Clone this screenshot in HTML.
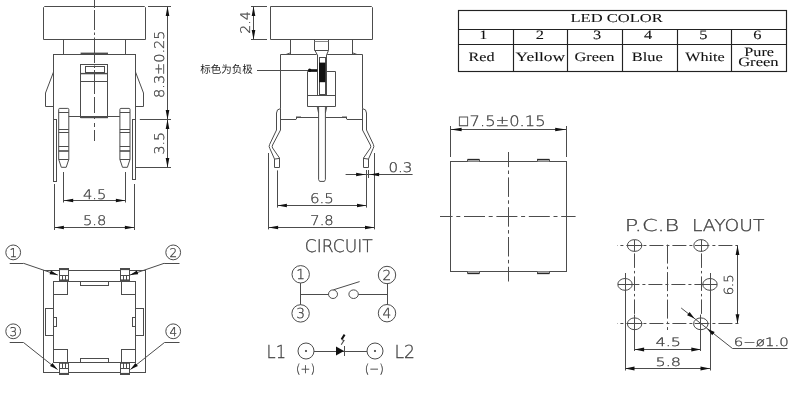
<!DOCTYPE html>
<html><head><meta charset="utf-8"><title>Switch drawing</title>
<style>
html,body{margin:0;padding:0;background:#fff;}
body{width:800px;height:400px;overflow:hidden;}
svg{display:block;filter:grayscale(1);}
svg *{vector-effect:none;}
.g line,.g path,.g rect,.g circle,.g ellipse{stroke:#4c4c4c;fill:none;stroke-width:1;}
.ar{fill:#111;stroke:none;}
.g .tb line,.g .tb rect{stroke:#222;stroke-width:1.15;}
text{fill:#404040;stroke:#404040;stroke-width:0.28;text-rendering:geometricPrecision;}
.cad{font-family:"DejaVu Sans","Liberation Sans",sans-serif;font-weight:200;}
.ser{font-family:"Liberation Serif","DejaVu Serif",serif;fill:#111;stroke:#111;stroke-width:0.08;}
.cjk{font-family:"Liberation Sans","Noto Sans CJK SC","WenQuanYi Zen Hei",sans-serif;fill:#222;stroke:none;}
</style></head><body>
<svg width="800" height="400" viewBox="0 0 800 400">
<rect width="800" height="400" style="fill:#fff"/>
<g class="g">
<line x1="94.5" y1="0" x2="94.5" y2="8"/>
<line x1="94.5" y1="10" x2="94.5" y2="30"/>
<line x1="94.5" y1="32.5" x2="94.5" y2="35"/>
<line x1="94.5" y1="37.5" x2="94.5" y2="63"/>
<line x1="94.5" y1="65.5" x2="94.5" y2="68"/>
<line x1="94.5" y1="70" x2="94.5" y2="94"/>
<line x1="94.5" y1="97" x2="94.5" y2="113"/>
<line x1="94.5" y1="116" x2="94.5" y2="119"/>
<line x1="94.5" y1="123" x2="94.5" y2="127"/>
<line x1="94.5" y1="130" x2="94.5" y2="141"/>
<path d="M44.5 6.5 H144.5 L145.5 7.5 V39.5 H43.5 V7.5 Z"/>
<line x1="63.5" y1="39.4" x2="63.5" y2="54"/>
<line x1="125.5" y1="39.4" x2="125.5" y2="54"/>
<line x1="53.4" y1="54.5" x2="135.6" y2="54.5"/>
<line x1="80.6" y1="53.4" x2="108" y2="53.4" style="stroke-width:1.6"/>
<line x1="53.5" y1="54" x2="53.5" y2="119.6"/>
<line x1="135.5" y1="54" x2="135.5" y2="119.6"/>
<path d="M53.5 72 L45.5 93 V106.5 H53.5"/>
<path d="M135.5 72 L143.5 93 V106.5 H135.5"/>
<rect x="80.5" y="64.5" width="27.0" height="53.0"/>
<rect x="85.5" y="66.5" width="19.0" height="6.0"/>
<line x1="80.6" y1="73.6" x2="107.6" y2="73.6" style="stroke-width:1.4"/>
<line x1="80.6" y1="81.5" x2="107.6" y2="81.5"/>
<line x1="80.6" y1="117.3" x2="108" y2="117.3" style="stroke-width:1.8"/>
<line x1="68.8" y1="116.5" x2="119.9" y2="116.5"/>
<path d="M58.7 159.4 V109.4 Q58.7 108.4 59.7 108.4 H67.8 Q68.8 108.4 68.8 109.4 V159.4 L66.2 167.3 H61.300000000000004 Z"/>
<line x1="58.7" y1="112.5" x2="68.8" y2="112.5"/>
<line x1="58.7" y1="129.5" x2="68.8" y2="129.5"/>
<line x1="58.7" y1="132.5" x2="68.8" y2="132.5"/>
<line x1="58.7" y1="146.5" x2="68.8" y2="146.5"/>
<line x1="58.7" y1="159.5" x2="68.8" y2="159.5"/>
<line x1="58.7" y1="151" x2="68.8" y2="151" style="stroke-width:1.6"/>
<path d="M119.9 159.4 V109.4 Q119.9 108.4 120.9 108.4 H129 Q130 108.4 130 109.4 V159.4 L127.4 167.3 H122.5 Z"/>
<line x1="119.9" y1="112.5" x2="130" y2="112.5"/>
<line x1="119.9" y1="129.5" x2="130" y2="129.5"/>
<line x1="119.9" y1="132.5" x2="130" y2="132.5"/>
<line x1="119.9" y1="146.5" x2="130" y2="146.5"/>
<line x1="119.9" y1="159.5" x2="130" y2="159.5"/>
<line x1="119.9" y1="151" x2="130" y2="151" style="stroke-width:1.6"/>
<rect x="53.5" y="119.5" width="3.0" height="62.0"/>
<rect x="132.5" y="119.5" width="3.0" height="60.0"/>
<line x1="148" y1="6.5" x2="171" y2="6.5"/>
<line x1="139.8" y1="119.5" x2="171" y2="119.5"/>
<line x1="135.5" y1="167.5" x2="171" y2="167.5"/>
<line x1="167.5" y1="6.4" x2="167.5" y2="167.5"/>
<polygon class="ar" points="167.50,6.40 169.30,15.90 165.70,15.90"/>
<polygon class="ar" points="167.50,119.60 165.70,110.10 169.30,110.10"/>
<polygon class="ar" points="167.50,119.60 169.30,129.10 165.70,129.10"/>
<polygon class="ar" points="167.50,167.50 165.70,158.00 169.30,158.00"/>
<text x="164" y="64.2" font-size="13.4" text-anchor="middle" class="cad" textLength="67.5" lengthAdjust="spacingAndGlyphs" transform="rotate(-90 164 64.2)">8.3±0.25</text>
<text x="163.6" y="143.3" font-size="13.4" text-anchor="middle" class="cad" textLength="22.5" lengthAdjust="spacingAndGlyphs" transform="rotate(-90 163.6 143.3)">3.5</text>
<line x1="63.5" y1="172" x2="63.5" y2="202.5"/>
<line x1="125.5" y1="172" x2="125.5" y2="202.5"/>
<line x1="63.7" y1="200.5" x2="125.4" y2="200.5"/>
<polygon class="ar" points="63.70,200.50 73.20,198.70 73.20,202.30"/>
<polygon class="ar" points="125.40,200.50 115.90,202.30 115.90,198.70"/>
<text x="94.6" y="198.6" font-size="13.2" text-anchor="middle" class="cad" textLength="23.4" lengthAdjust="spacingAndGlyphs">4.5</text>
<line x1="54.5" y1="184" x2="54.5" y2="230"/>
<line x1="134.5" y1="184" x2="134.5" y2="230"/>
<line x1="54.4" y1="227.5" x2="134.4" y2="227.5"/>
<polygon class="ar" points="54.40,227.50 63.90,225.70 63.90,229.30"/>
<polygon class="ar" points="134.40,227.50 124.90,229.30 124.90,225.70"/>
<text x="94.6" y="225" font-size="13.2" text-anchor="middle" class="cad" textLength="23.4" lengthAdjust="spacingAndGlyphs">5.8</text>
<rect x="43.5" y="270.5" width="102.0" height="102.0"/>
<rect x="53.5" y="281.5" width="82.0" height="81.0"/>
<rect x="59.5" y="268.5" width="9.0" height="12.0" style="fill:#fff"/>
<line x1="59" y1="269.2" x2="68.6" y2="269.2" style="stroke-width:1.8"/>
<line x1="59" y1="275.5" x2="68.6" y2="275.5"/>
<line x1="62.5" y1="275" x2="62.5" y2="280.8"/>
<line x1="65.5" y1="275" x2="65.5" y2="280.8"/>
<line x1="59" y1="280.2" x2="68.6" y2="280.2" style="stroke-width:1.6"/>
<rect x="120.5" y="268.5" width="9.0" height="12.0" style="fill:#fff"/>
<line x1="120.4" y1="269.2" x2="129.6" y2="269.2" style="stroke-width:1.8"/>
<line x1="120.4" y1="275.5" x2="129.6" y2="275.5"/>
<line x1="123.5" y1="275" x2="123.5" y2="280.8"/>
<line x1="126.5" y1="275" x2="126.5" y2="280.8"/>
<line x1="120.4" y1="280.2" x2="129.6" y2="280.2" style="stroke-width:1.6"/>
<rect x="59.5" y="362.5" width="9.0" height="12.0" style="fill:#fff"/>
<line x1="59" y1="373.8" x2="68.6" y2="373.8" style="stroke-width:1.8"/>
<line x1="59" y1="368.5" x2="68.6" y2="368.5"/>
<line x1="62.5" y1="362.4" x2="62.5" y2="368.2"/>
<line x1="65.5" y1="362.4" x2="65.5" y2="368.2"/>
<line x1="59" y1="363" x2="68.6" y2="363" style="stroke-width:1.6"/>
<rect x="120.5" y="362.5" width="9.0" height="12.0" style="fill:#fff"/>
<line x1="120.4" y1="373.8" x2="129.6" y2="373.8" style="stroke-width:1.8"/>
<line x1="120.4" y1="368.5" x2="129.6" y2="368.5"/>
<line x1="123.5" y1="362.4" x2="123.5" y2="368.2"/>
<line x1="126.5" y1="362.4" x2="126.5" y2="368.2"/>
<line x1="120.4" y1="363" x2="129.6" y2="363" style="stroke-width:1.6"/>
<rect x="53.5" y="281.5" width="14.0" height="13.0"/>
<rect x="121.5" y="281.5" width="14.0" height="13.0"/>
<rect x="53.5" y="349.5" width="14.0" height="13.0"/>
<rect x="121.5" y="349.5" width="14.0" height="13.0"/>
<rect x="80.5" y="281.5" width="28.0" height="4.0"/>
<rect x="80.5" y="358.5" width="28.0" height="4.0"/>
<rect x="45.5" y="308.5" width="8.0" height="27.0"/>
<rect x="135.5" y="308.5" width="8.0" height="27.0"/>
<rect x="53.5" y="317.5" width="3.0" height="9.0"/>
<rect x="132.5" y="317.5" width="3.0" height="9.0"/>
<circle cx="13.2" cy="252.4" r="7.4"/>
<text x="13.2" y="256.7" font-size="12" text-anchor="middle" class="cad">1</text>
<line x1="9.7" y1="263.5" x2="23.5" y2="263.5"/>
<line x1="23.5" y1="263.3" x2="57.8" y2="275"/>
<polygon class="ar" points="57.80,275.00 49.58,274.31 50.87,270.52"/>
<circle cx="173.2" cy="252.4" r="7.4"/>
<text x="173.2" y="256.7" font-size="12" text-anchor="middle" class="cad">2</text>
<line x1="179.5" y1="263.5" x2="164.2" y2="263.5"/>
<line x1="164.2" y1="263.3" x2="130" y2="275"/>
<polygon class="ar" points="130.00,275.00 136.92,270.52 138.22,274.30"/>
<circle cx="13.2" cy="331.3" r="7.4"/>
<text x="13.2" y="335.6" font-size="12" text-anchor="middle" class="cad">3</text>
<line x1="9.7" y1="342.5" x2="23.5" y2="342.5"/>
<line x1="23.5" y1="342.5" x2="57.5" y2="369.5"/>
<polygon class="ar" points="57.50,369.50 49.99,366.09 52.48,362.96"/>
<circle cx="173.2" cy="331.3" r="7.4"/>
<text x="173.2" y="335.6" font-size="12" text-anchor="middle" class="cad">4</text>
<line x1="179.5" y1="342.5" x2="164.5" y2="342.5"/>
<line x1="164.5" y1="342.5" x2="130.4" y2="369.5"/>
<polygon class="ar" points="130.40,369.50 135.43,362.97 137.91,366.10"/>
<path d="M270.5 6.5 H371.5 L372.5 7.5 V39.5 H270.5 Z"/>
<line x1="251" y1="6.5" x2="267" y2="6.5"/>
<line x1="251" y1="39.5" x2="267" y2="39.5"/>
<line x1="253.5" y1="6.4" x2="253.5" y2="39.4"/>
<polygon class="ar" points="253.50,6.40 255.30,15.90 251.70,15.90"/>
<polygon class="ar" points="253.50,39.40 251.70,29.90 255.30,29.90"/>
<text x="250" y="22.6" font-size="13.2" text-anchor="middle" class="cad" textLength="22.5" lengthAdjust="spacingAndGlyphs" transform="rotate(-90 250 22.6)">2.4</text>
<line x1="290.5" y1="39.4" x2="290.5" y2="54.2"/>
<line x1="352.5" y1="39.4" x2="352.5" y2="54.2"/>
<line x1="314.5" y1="39.4" x2="314.5" y2="50.4"/>
<line x1="328.5" y1="39.4" x2="328.5" y2="50.4"/>
<line x1="314.6" y1="41.5" x2="328.3" y2="41.5" style="stroke:#888"/>
<line x1="314.6" y1="50.5" x2="328.3" y2="50.5"/>
<path d="M314.9 50.4 L317.5 55.2 M328.5 50.4 L326.5 55.2"/>
<path d="M280.5 108.5 V54.5 H316.6 M327.2 54.5 H362.5 V108.5"/>
<path d="M286 54.5 L290.5 52.8 M357 54.5 L352.5 52.8"/>
<line x1="280.5" y1="108.5" x2="280.5" y2="119.5"/>
<line x1="362.5" y1="108.5" x2="362.5" y2="119.5"/>
<line x1="317.5" y1="55" x2="317.5" y2="95"/>
<line x1="326.5" y1="55" x2="326.5" y2="95"/>
<rect x="319.5" y="57.5" width="6.0" height="37.0"/>
<rect x="319" y="62.6" width="6.4" height="19.6" style="fill:#111;stroke:none"/>
<path d="M317.5 71.5 H307.5 V106.5 H335.5 V71.5 H326.5"/>
<line x1="307.5" y1="95.5" x2="335.5" y2="95.5"/>
<line x1="257" y1="70.5" x2="309" y2="70.5"/>
<circle cx="309.7" cy="70.2" r="1.7" style="fill:#111;stroke:none"/>
<line x1="309.5" y1="70.3" x2="317.3" y2="70.3" style="stroke:#111;stroke-width:2.2"/>
<text x="200.2" y="72.8" font-size="10.6" text-anchor="start" class="cjk" textLength="52.5" lengthAdjust="spacingAndGlyphs">标色为负极</text>
<path d="M318.6 106.5 V179.6 L319.6 181.4 H324.4 L325.4 179.6 V106.5"/>
<path d="M317.2 106.5 L318.6 113 M326.8 106.5 L325.4 113"/>
<path d="M280.5 119.5 H296 L297 117.5 H318.6 M325.4 117.5 H346 L347 119.5 H362.5"/>
<path d="M296 117.2 h5 M342 117.2 h5" style="stroke-width:1.6"/>
<path d="M280.5 108.6 Q276.5 109 276.5 113 V130 L269.6 144.5 Q268.6 146.6 269.8 148.4 L274.5 159 V167.5 H279.5 V158 L272.6 148 Q271.8 146.6 272.6 145 L280.5 130 V119"/>
<line x1="275.0" y1="159" x2="279.6" y2="158.4"/>
<path d="M362.5 108.6 Q366.5 109 366.5 113 V130 L373.4 144.5 Q374.4 146.6 373.2 148.4 L368.5 159 V167.5 H363.5 V158 L370.4 148 Q371.2 146.6 370.4 145 L362.5 130 V119"/>
<line x1="368.0" y1="159" x2="363.4" y2="158.4"/>
<line x1="277.5" y1="170.4" x2="277.5" y2="207.6"/>
<line x1="366.5" y1="170" x2="366.5" y2="207.6"/>
<line x1="277.4" y1="205.5" x2="366.5" y2="205.5"/>
<polygon class="ar" points="277.40,205.50 286.90,203.70 286.90,207.30"/>
<polygon class="ar" points="366.50,205.50 357.00,207.30 357.00,203.70"/>
<text x="321.8" y="203.2" font-size="13.4" text-anchor="middle" class="cad" textLength="23.8" lengthAdjust="spacingAndGlyphs">6.5</text>
<line x1="268.5" y1="153" x2="268.5" y2="229.4"/>
<line x1="374.5" y1="153" x2="374.5" y2="229.4"/>
<line x1="268.6" y1="227.5" x2="374.5" y2="227.5"/>
<polygon class="ar" points="268.60,227.50 278.10,225.70 278.10,229.30"/>
<polygon class="ar" points="374.50,227.50 365.00,229.30 365.00,225.70"/>
<text x="322" y="225" font-size="13.4" text-anchor="middle" class="cad" textLength="23.4" lengthAdjust="spacingAndGlyphs">7.8</text>
<line x1="345.6" y1="174.5" x2="412.6" y2="174.5"/>
<polygon class="ar" points="365.60,174.50 356.10,176.30 356.10,172.70"/>
<polygon class="ar" points="369.60,174.50 379.10,172.70 379.10,176.30"/>
<line x1="368.5" y1="170" x2="368.5" y2="178"/>
<text x="400.4" y="171.6" font-size="13.2" text-anchor="middle" class="cad" textLength="24" lengthAdjust="spacingAndGlyphs">0.3</text>
<text x="338.8" y="251.6" font-size="17.4" text-anchor="middle" class="cad" textLength="68" lengthAdjust="spacingAndGlyphs">CIRCUIT</text>
<circle cx="300.7" cy="274.3" r="8.7"/>
<text x="300.7" y="279.26800000000003" font-size="13.8" text-anchor="middle" class="cad">1</text>
<circle cx="387" cy="275" r="8.7"/>
<text x="387" y="279.968" font-size="13.8" text-anchor="middle" class="cad">2</text>
<circle cx="300.6" cy="313.4" r="8.7"/>
<text x="300.6" y="318.368" font-size="13.8" text-anchor="middle" class="cad">3</text>
<circle cx="387" cy="313.2" r="8.7"/>
<text x="387" y="318.168" font-size="13.8" text-anchor="middle" class="cad">4</text>
<line x1="300.5" y1="283" x2="300.5" y2="304.8"/>
<line x1="387.5" y1="283.6" x2="387.5" y2="304.6"/>
<line x1="300.8" y1="294.5" x2="328.6" y2="294.5"/>
<ellipse cx="333" cy="294.2" rx="4.5" ry="4.3"/>
<ellipse cx="353.6" cy="294.2" rx="4.7" ry="4.3"/>
<line x1="358.3" y1="294.5" x2="387" y2="294.5"/>
<line x1="333.5" y1="289.8" x2="359.6" y2="281.6"/>
<text x="276.3" y="358" font-size="18" text-anchor="middle" class="cad" textLength="19.5" lengthAdjust="spacingAndGlyphs">L1</text>
<text x="404.8" y="358" font-size="18" text-anchor="middle" class="cad" textLength="20.5" lengthAdjust="spacingAndGlyphs">L2</text>
<circle cx="306" cy="351" r="8"/>
<circle cx="375" cy="351" r="8"/>
<circle cx="306" cy="351" r="0.7" style="fill:#222"/>
<circle cx="375" cy="351" r="0.7" style="fill:#222"/>
<line x1="314" y1="351.5" x2="367" y2="351.5"/>
<polygon class="ar" points="336,346.6 336,355.6 344,351"/>
<line x1="344.5" y1="346" x2="344.5" y2="356"/>
<path d="M344.6 334.6 L341.6 339.4" style="stroke:#111;stroke-width:2"/>
<path d="M341.6 339.4 L344 340.4 L341.2 344.8" style="stroke-width:1.1"/>
<text x="305.5" y="372.6" font-size="12.2" text-anchor="middle" class="cad" textLength="19" lengthAdjust="spacingAndGlyphs">(+)</text>
<text x="374.3" y="372.6" font-size="12.2" text-anchor="middle" class="cad" textLength="19" lengthAdjust="spacingAndGlyphs">(−)</text>
<g class="tb">
<rect x="458.5" y="10.5" width="328.0" height="61.0"/>
<line x1="458.5" y1="29.5" x2="786.5" y2="29.5"/>
<line x1="458.5" y1="44.5" x2="786.5" y2="44.5"/>
<line x1="513.5" y1="29.3" x2="513.5" y2="71.6"/>
<line x1="567.5" y1="29.3" x2="567.5" y2="71.6"/>
<line x1="622.5" y1="29.3" x2="622.5" y2="71.6"/>
<line x1="677.5" y1="29.3" x2="677.5" y2="71.6"/>
<line x1="731.5" y1="29.3" x2="731.5" y2="71.6"/>
</g>
<text x="616.6" y="21.5" font-size="12.2" text-anchor="middle" class="ser" textLength="92.3" lengthAdjust="spacingAndGlyphs">LED COLOR</text>
<text x="483.3" y="39.2" font-size="12.8" text-anchor="middle" class="ser" textLength="8.2" lengthAdjust="spacingAndGlyphs">1</text>
<text x="539.8" y="39.2" font-size="12.8" text-anchor="middle" class="ser" textLength="8.2" lengthAdjust="spacingAndGlyphs">2</text>
<text x="597" y="39.2" font-size="12.8" text-anchor="middle" class="ser" textLength="8.2" lengthAdjust="spacingAndGlyphs">3</text>
<text x="648" y="39.2" font-size="12.8" text-anchor="middle" class="ser" textLength="8.2" lengthAdjust="spacingAndGlyphs">4</text>
<text x="703.3" y="39.2" font-size="12.8" text-anchor="middle" class="ser" textLength="8.2" lengthAdjust="spacingAndGlyphs">5</text>
<text x="757.3" y="39.2" font-size="12.8" text-anchor="middle" class="ser" textLength="8.2" lengthAdjust="spacingAndGlyphs">6</text>
<text x="481.5" y="60.5" font-size="12.8" text-anchor="middle" class="ser" textLength="26" lengthAdjust="spacingAndGlyphs">Red</text>
<text x="540.4" y="60.5" font-size="12.8" text-anchor="middle" class="ser" textLength="49.6" lengthAdjust="spacingAndGlyphs">Yellow</text>
<text x="594.5" y="60.5" font-size="12.8" text-anchor="middle" class="ser" textLength="40" lengthAdjust="spacingAndGlyphs">Green</text>
<text x="647.2" y="60.5" font-size="12.8" text-anchor="middle" class="ser" textLength="31" lengthAdjust="spacingAndGlyphs">Blue</text>
<text x="705" y="60.5" font-size="12.8" text-anchor="middle" class="ser" textLength="39.4" lengthAdjust="spacingAndGlyphs">White</text>
<text x="759.2" y="56" font-size="12.8" text-anchor="middle" class="ser" textLength="29.7" lengthAdjust="spacingAndGlyphs">Pure</text>
<text x="758.4" y="66.2" font-size="12.8" text-anchor="middle" class="ser" textLength="40.5" lengthAdjust="spacingAndGlyphs">Green</text>
<rect x="450.5" y="161.5" width="116.0" height="110.0"/>
<rect x="467.5" y="159.5" width="12.0" height="2" style="fill:#bdbdbd;stroke:none"/>
<line x1="467.5" y1="159.5" x2="479.5" y2="159.5" style="stroke:#2a2a2a;stroke-width:1.3"/>
<line x1="467.5" y1="159.5" x2="467.5" y2="161.5"/>
<line x1="479.5" y1="159.5" x2="479.5" y2="161.5"/>
<rect x="467.5" y="271.5" width="12.0" height="2" style="fill:#bdbdbd;stroke:none"/>
<line x1="467.5" y1="273.5" x2="479.5" y2="273.5" style="stroke:#2a2a2a;stroke-width:1.3"/>
<line x1="467.5" y1="273.5" x2="467.5" y2="271.5"/>
<line x1="479.5" y1="273.5" x2="479.5" y2="271.5"/>
<rect x="537" y="159.5" width="12.5" height="2" style="fill:#bdbdbd;stroke:none"/>
<line x1="537" y1="159.5" x2="549.5" y2="159.5" style="stroke:#2a2a2a;stroke-width:1.3"/>
<line x1="537.5" y1="159.5" x2="537.5" y2="161.5"/>
<line x1="549.5" y1="159.5" x2="549.5" y2="161.5"/>
<rect x="537" y="271.5" width="12.5" height="2" style="fill:#bdbdbd;stroke:none"/>
<line x1="537" y1="273.5" x2="549.5" y2="273.5" style="stroke:#2a2a2a;stroke-width:1.3"/>
<line x1="537.5" y1="273.5" x2="537.5" y2="271.5"/>
<line x1="549.5" y1="273.5" x2="549.5" y2="271.5"/>
<line x1="508.5" y1="152" x2="508.5" y2="281.5" stroke-dashoffset="4.4" style="stroke-dasharray:19.5 3.4 3.5 3.4"/>
<line x1="440" y1="216.5" x2="575.6" y2="216.5" stroke-dashoffset="8.4" style="stroke-dasharray:21 3.7 4 3.7"/>
<line x1="450.5" y1="126" x2="450.5" y2="157"/>
<line x1="566.5" y1="126" x2="566.5" y2="157"/>
<line x1="450.6" y1="129.5" x2="566.2" y2="129.5"/>
<polygon class="ar" points="450.60,129.50 461.60,127.70 461.60,131.30"/>
<polygon class="ar" points="566.20,129.50 555.20,131.30 555.20,127.70"/>
<text x="459" y="126" font-size="15.4" text-anchor="start" class="cad" textLength="9" lengthAdjust="spacingAndGlyphs">□</text>
<text x="507.6" y="126" font-size="14.4" text-anchor="middle" class="cad" textLength="76" lengthAdjust="spacingAndGlyphs">7.5±0.15</text>
<text x="652" y="230.6" font-size="16.4" text-anchor="middle" class="cad" textLength="54.4" lengthAdjust="spacingAndGlyphs">P.C.B</text>
<text x="728.2" y="230.6" font-size="16.4" text-anchor="middle" class="cad" textLength="72.6" lengthAdjust="spacingAndGlyphs">LAYOUT</text>
<ellipse cx="634.6" cy="245.5" rx="7.2" ry="5.9"/>
<ellipse cx="701" cy="245.5" rx="7.2" ry="5.9"/>
<ellipse cx="625" cy="284.4" rx="7.2" ry="5.9"/>
<ellipse cx="710" cy="284.4" rx="7.2" ry="5.9"/>
<ellipse cx="634.6" cy="323.8" rx="7.2" ry="5.9"/>
<ellipse cx="700.8" cy="323.8" rx="7.2" ry="5.9"/>
<line x1="617" y1="245.5" x2="738" y2="245.5" stroke-dashoffset="13.6" style="stroke-dasharray:14 3 3 3"/>
<line x1="617" y1="323.5" x2="740" y2="323.5" stroke-dashoffset="13.6" style="stroke-dasharray:14 3 3 3"/>
<line x1="632" y1="284.5" x2="703" y2="284.5" stroke-dashoffset="6.6" style="stroke-dasharray:14 3 3 3"/>
<line x1="618" y1="284.5" x2="632" y2="284.5"/>
<line x1="703" y1="284.5" x2="717" y2="284.5"/>
<line x1="634.5" y1="253.4" x2="634.5" y2="314.6" style="stroke-dasharray:14.5 3 2.5 3"/>
<line x1="701.5" y1="253.4" x2="701.5" y2="314.6" style="stroke-dasharray:14.5 3 2.5 3"/>
<line x1="634.5" y1="240" x2="634.5" y2="251.6"/>
<line x1="701.5" y1="240" x2="701.5" y2="251.6"/>
<line x1="628.4" y1="245.5" x2="642.4" y2="245.5"/>
<line x1="694.8" y1="245.5" x2="708.8" y2="245.5"/>
<line x1="628.4" y1="323.5" x2="642.4" y2="323.5"/>
<line x1="694.6" y1="323.5" x2="708.6" y2="323.5"/>
<line x1="667.5" y1="244.6" x2="667.5" y2="330" style="stroke-dasharray:19 3 2.5 3"/>
<line x1="625.5" y1="273" x2="625.5" y2="370.5"/>
<line x1="710.5" y1="273" x2="710.5" y2="370.5"/>
<line x1="634.5" y1="314.6" x2="634.5" y2="351"/>
<line x1="700.5" y1="314.6" x2="700.5" y2="351"/>
<line x1="737.5" y1="245.5" x2="737.5" y2="323.8"/>
<polygon class="ar" points="737.50,245.50 739.40,255.00 735.60,255.00"/>
<polygon class="ar" points="737.50,323.80 735.60,314.30 739.40,314.30"/>
<text x="732.8" y="284.8" font-size="12.5" text-anchor="middle" class="cad" textLength="21" lengthAdjust="spacingAndGlyphs" transform="rotate(-90 732.8 284.8)">6.5</text>
<line x1="634.6" y1="349.5" x2="700.8" y2="349.5"/>
<polygon class="ar" points="634.60,349.50 644.10,347.60 644.10,351.40"/>
<polygon class="ar" points="700.80,349.50 691.30,351.40 691.30,347.60"/>
<text x="668.2" y="345.6" font-size="11.5" text-anchor="middle" class="cad" textLength="25.5" lengthAdjust="spacingAndGlyphs">4.5</text>
<line x1="625" y1="368.5" x2="710" y2="368.5"/>
<polygon class="ar" points="625.00,368.50 634.50,366.60 634.50,370.40"/>
<polygon class="ar" points="710.00,368.50 700.50,370.40 700.50,366.60"/>
<text x="668.2" y="365.6" font-size="11.5" text-anchor="middle" class="cad" textLength="25.5" lengthAdjust="spacingAndGlyphs">5.8</text>
<path d="M681.2 308 L732.5 348.5 H787.5"/>
<polygon class="ar" points="694.60,318.60 687.09,315.19 689.58,312.06"/>
<polygon class="ar" points="707.20,328.70 714.71,332.11 712.22,335.24"/>
<text x="761.2" y="346.3" font-size="11.6" text-anchor="middle" class="cad" textLength="55" lengthAdjust="spacingAndGlyphs">6−ø1.0</text>
</g>
</svg>
</body></html>
